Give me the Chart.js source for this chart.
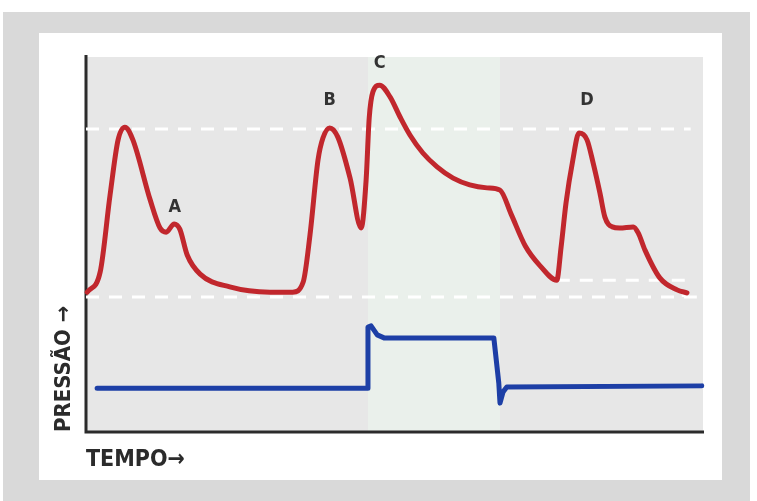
<!DOCTYPE html>
<html lang="pt">
<head>
    <meta charset="UTF-8">
    <title>Pressão x Tempo</title>
    <style>
        body { margin: 0; background: #fff; width: 757px; height: 501px; overflow: hidden; }
        #outer { position: absolute; left: 3px; top: 12px; width: 747px; height: 495px; background: #d9d9d9; }
        #card { position: absolute; left: 39px; top: 33px; width: 683px; height: 447px; background: #fff; }
        #chartBox { position: absolute; left: 0; top: 0; width: 683px; height: 447px; }
    </style>
    <script src="https://cdn.jsdelivr.net/npm/chart.js"></script>
</head>
<body>
    <div id="outer"></div>
    <div id="card">
        <div id="chartBox"><canvas id="pressChart"></canvas></div>
    </div>

    <script>
        // red curve: pressure trace (tempo 0-100, pressao 0-100)
        const redT = [0.2, 2.3, 3.9, 5.2, 6.3, 7.6, 10.4, 12.0, 13.0, 14.3, 15.2, 16.4, 18.5, 23.3, 29.8, 33.5,
                      35.2, 36.3, 37.6, 38.4, 39.5, 40.8, 42.8, 44.6, 45.4, 45.9, 46.5, 47.6, 49.3, 50.9, 52.5, 54.6, 56.9, 59.5, 62.2, 65.0, 67.1,
                      68.9, 71.2, 73.6, 76.3, 77.0, 77.8, 78.9, 79.9, 81.2, 82.2, 83.3, 84.1, 85.3, 86.5, 88.7, 89.5, 90.6, 93.0, 95.8, 97.4];
        const redP = [37.3, 42.7, 63.2, 77.9, 81.3, 77.9, 61.9, 54.4, 53.3, 55.5, 54.1, 47.2, 42.1, 38.7, 37.3, 37.3,
                      40.0, 52.5, 72.5, 78.4, 81.1, 78.7, 67.7, 54.4, 67.2, 83.7, 90.7, 92.5, 89.3, 84.0, 79.2, 74.4, 70.7, 67.7, 65.9, 65.1, 64.5,
                      58.1, 49.6, 44.3, 40.5, 49.3, 61.1, 72.5, 79.7, 77.9, 71.7, 63.7, 57.3, 54.7, 54.4, 54.7, 53.1, 48.5, 41.1, 37.9, 37.1];

        // blue curve: step signal
        const blueT = [1.8, 45.7, 45.7, 46.2, 47.2, 48.3, 66.1, 66.9, 67.1, 67.6, 68.2, 99.8];
        const blueP = [11.7, 11.7, 28.0, 28.3, 25.9, 25.1, 25.1, 13.1, 7.7, 10.7, 12.0, 12.3];

        // white dashed reference lines
        const upperDashT = [0, 98];
        const upperDashP = [80.8, 80.8];
        const lowerDashT = [0, 99];
        const lowerDashP = [36.0, 36.0];
        const stepDashT = [76.3, 96.8, 96.8];
        const stepDashP = [40.5, 40.5, 36.0];

        // shaded interval
        const bandStart = 45.7;
        const bandEnd = 67.1;

        // point labels
        const labelNames = ['A', 'B', 'C', 'D'];
        const labelT = [14.4, 39.5, 47.6, 81.2];
        const labelP = [60.0, 88.5, 98.4, 88.5];

        const toPts = (ts, ps) => ts.map((t, i) => ({ x: t, y: ps[i] }));

        const condensed = '"Liberation Sans Narrow", "DejaVu Sans Condensed", Arial, sans-serif';

        const backdrop = {
            id: 'backdrop',
            beforeDatasetsDraw(chart) {
                const { ctx, chartArea: a, scales: { x } } = chart;
                ctx.save();
                ctx.fillStyle = '#e7e7e7';
                ctx.fillRect(a.left, a.top, a.right - a.left, a.bottom - a.top);
                const x0 = x.getPixelForValue(bandStart);
                const x1 = x.getPixelForValue(bandEnd);
                ctx.fillStyle = '#eaf0eb';
                ctx.fillRect(x0, a.top, x1 - x0, a.bottom - a.top);
                ctx.restore();
                // axis lines over the fill
                ctx.save();
                ctx.strokeStyle = '#2b2b2b';
                ctx.lineWidth = 3;
                ctx.beginPath();
                ctx.moveTo(a.left, a.top - 2);
                ctx.lineTo(a.left, a.bottom);
                ctx.lineTo(a.right + 1, a.bottom);
                ctx.stroke();
                ctx.restore();
            }
        };

        const pointLabels = {
            id: 'pointLabels',
            afterDatasetsDraw(chart) {
                const { ctx, scales: { x, y } } = chart;
                ctx.save();
                ctx.fillStyle = '#333';
                ctx.font = 'bold 18px ' + condensed;
                ctx.textAlign = 'center';
                ctx.textBaseline = 'middle';
                labelNames.forEach((n, i) => {
                    ctx.fillText(n, x.getPixelForValue(labelT[i]), y.getPixelForValue(labelP[i]));
                });
                ctx.restore();
            }
        };

        const dashStyle = {
            borderColor: '#ffffff',
            borderWidth: 3,
            borderDash: [13, 10],
            pointRadius: 0,
            tension: 0,
            fill: false
        };

        new Chart(document.getElementById('pressChart'), {
            type: 'line',
            data: {
                datasets: [
                    {
                        label: 'pressão',
                        data: toPts(redT, redP),
                        borderColor: '#c1272d',
                        borderWidth: 5,
                        borderCapStyle: 'round',
                        borderJoinStyle: 'round',
                        cubicInterpolationMode: 'monotone',
                        pointRadius: 0,
                        clip: false
                    },
                    {
                        label: 'sinal',
                        data: toPts(blueT, blueP),
                        borderColor: '#1d3fa6',
                        borderWidth: 5,
                        borderCapStyle: 'round',
                        borderJoinStyle: 'round',
                        tension: 0,
                        pointRadius: 0,
                        clip: false
                    },
                    { label: 'sup', data: toPts(upperDashT, upperDashP), ...dashStyle },
                    { label: 'inf', data: toPts(lowerDashT, lowerDashP), ...dashStyle },
                    { label: 'deg', data: toPts(stepDashT, stepDashP), ...dashStyle }
                ]
            },
            options: {
                responsive: true,
                maintainAspectRatio: false,
                animation: false,
                layout: { padding: { top: 24, right: 19, left: 0, bottom: 0 } },
                plugins: {
                    legend: { display: false },
                    tooltip: { enabled: false }
                },
                scales: {
                    x: {
                        type: 'linear',
                        min: 0,
                        max: 100,
                        grid: { display: false },
                        border: { display: false },
                        ticks: { display: false },
                        title: {
                            display: true,
                            text: 'TEMPO→',
                            align: 'start',
                            color: '#2b2b2b',
                            font: { family: condensed, size: 23, weight: 'bold' },
                            padding: { top: 0, bottom: 6 }
                        },
                        afterFit(scale) { scale.height = 48; }
                    },
                    y: {
                        min: 0,
                        max: 100,
                        grid: { display: false },
                        border: { display: false },
                        ticks: { display: false },
                        title: {
                            display: true,
                            text: 'PRESSÃO →',
                            align: 'start',
                            color: '#2b2b2b',
                            font: { family: condensed, size: 22, weight: 'bold' },
                            padding: { top: 12, bottom: 0 }
                        },
                        afterFit(scale) { scale.width = 47; }
                    }
                }
            },
            plugins: [backdrop, pointLabels]
        });
    </script>
</body>
</html>
